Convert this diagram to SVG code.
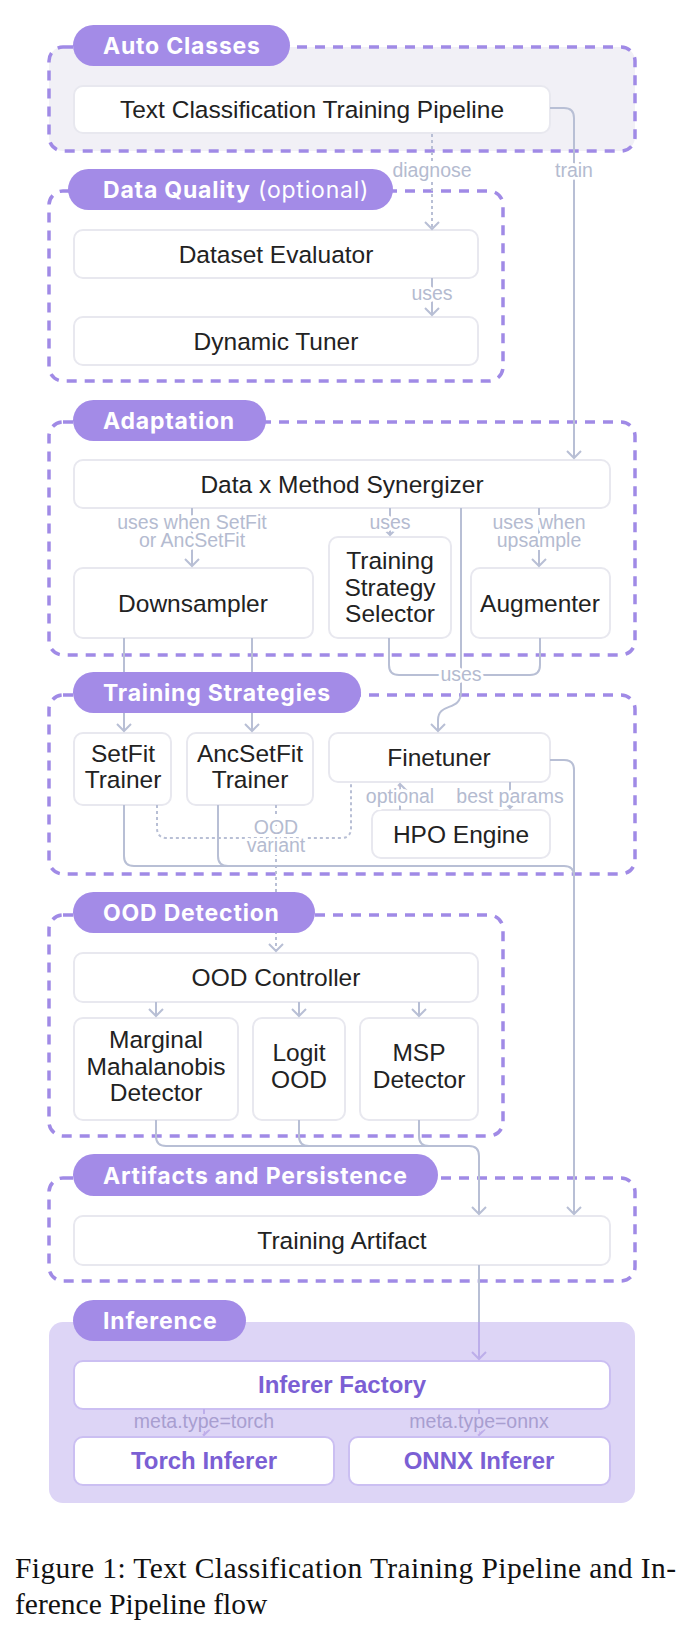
<svg xmlns="http://www.w3.org/2000/svg" width="691" height="1637" viewBox="0 0 691 1637">
<defs>
<style>
.bg{fill:#ffffff}
.cont{fill:#ffffff;stroke:#a08ae6;stroke-width:3.5;stroke-dasharray:10 8}
.cont-gray{fill:#f1f0f6;stroke:#a08ae6;stroke-width:3.5;stroke-dasharray:10 8}
.cont-inf{fill:#ddd5f6;stroke:none}
.pill{fill:#a38be7}
.ptxt{font-family:Inter,"Liberation Sans",sans-serif;font-size:23px;font-weight:700;letter-spacing:0.8px;fill:#ffffff}
.ptxt .lt{font-weight:400}
.node{fill:#ffffff;stroke:#e8e8ef;stroke-width:2}
.node-inf{fill:#ffffff;stroke:#cbbff2;stroke-width:2}
.ntxt{font-family:"Liberation Sans",Arial,sans-serif;font-size:24.5px;fill:#222222;text-anchor:middle}
.itxt{font-family:"Liberation Sans",Arial,sans-serif;font-size:24px;font-weight:700;fill:#7b5fd4;text-anchor:middle}
.conn{fill:none;stroke:#b8bfd5;stroke-width:2}
.dot{stroke-dasharray:3 3}
.conn-inf{fill:none;stroke:#bcaeea;stroke-width:2}
.lbl{font-family:"Liberation Sans",Arial,sans-serif;font-size:19.5px;fill:#b4bbd0;text-anchor:middle;stroke:#ffffff;stroke-width:6;stroke-linejoin:round;paint-order:stroke}
.lbl-inf{font-family:"Liberation Sans",Arial,sans-serif;font-size:19.5px;fill:#a89ed0;text-anchor:middle;stroke:#ddd5f6;stroke-width:6;stroke-linejoin:round;paint-order:stroke}
.cap{font-family:"Liberation Serif","Times New Roman",serif;font-size:29.5px;fill:#111111}
</style>
<marker id="ah" viewBox="-10 -10 20 20" markerWidth="20" markerHeight="20" markerUnits="userSpaceOnUse" orient="auto">
<path d="M-7,-7 L0,0 L-7,7" fill="none" stroke="#b8bfd5" stroke-width="2"/>
</marker>
<marker id="ahi" viewBox="-10 -10 20 20" markerWidth="20" markerHeight="20" markerUnits="userSpaceOnUse" orient="auto">
<path d="M-7,-7 L0,0 L-7,7" fill="none" stroke="#bcaeea" stroke-width="2"/>
</marker>
</defs>
<rect class="bg" x="0" y="0" width="691" height="1637"/>

<g id="clusters">
<rect id="c-auto" class="cont-gray" x="49" y="47" width="586" height="104" rx="14"/>
<rect id="c-dq" class="cont" x="49" y="191" width="454" height="190" rx="14"/>
<rect id="c-adapt" class="cont" x="49" y="422" width="586" height="233" rx="14"/>
<rect id="c-ts" class="cont" x="49" y="695" width="586" height="179" rx="14"/>
<rect id="c-ood" class="cont" x="49" y="915" width="454" height="221" rx="14"/>
<rect id="c-art" class="cont" x="49" y="1178" width="586" height="103" rx="14"/>
<rect id="c-inf" class="cont-inf" x="49" y="1322" width="586" height="181" rx="14"/>
</g>

<g id="n-tctp"><rect class="node" x="74" y="86" width="476" height="47" rx="9"/><text class="ntxt" x="312" y="118">Text Classification Training Pipeline</text></g>
<g id="n-de"><rect class="node" x="74" y="230" width="404" height="48" rx="9"/><text class="ntxt" x="276" y="262.5">Dataset Evaluator</text></g>
<g id="n-dt"><rect class="node" x="74" y="317" width="404" height="48" rx="9"/><text class="ntxt" x="276" y="349.5">Dynamic Tuner</text></g>
<g id="n-syn"><rect class="node" x="74" y="460" width="536" height="48" rx="9"/><text class="ntxt" x="342" y="492.5">Data x Method Synergizer</text></g>
<g id="n-down"><rect class="node" x="74" y="568" width="239" height="70" rx="9"/><text class="ntxt" x="193" y="611.5">Downsampler</text></g>
<g id="n-tss"><rect class="node" x="329" y="537" width="122" height="101" rx="9"/><text class="ntxt" x="390" y="569">Training</text><text class="ntxt" x="390" y="595.5">Strategy</text><text class="ntxt" x="390" y="622">Selector</text></g>
<g id="n-aug"><rect class="node" x="471" y="568" width="139" height="70" rx="9"/><text class="ntxt" x="540" y="611.5">Augmenter</text></g>
<g id="n-setfit"><rect class="node" x="74" y="733" width="97" height="72" rx="9"/><text class="ntxt" x="123" y="762">SetFit</text><text class="ntxt" x="123" y="788">Trainer</text></g>
<g id="n-anc"><rect class="node" x="187" y="733" width="126" height="72" rx="9"/><text class="ntxt" x="250" y="762">AncSetFit</text><text class="ntxt" x="250" y="788">Trainer</text></g>
<g id="n-fine"><rect class="node" x="329" y="733" width="221" height="49" rx="9"/><text class="ntxt" x="439" y="766">Finetuner</text></g>
<g id="n-hpo"><rect class="node" x="372" y="810" width="178" height="48" rx="9"/><text class="ntxt" x="461" y="842.5">HPO Engine</text></g>
<g id="n-oodc"><rect class="node" x="74" y="953" width="404" height="49" rx="9"/><text class="ntxt" x="276" y="986">OOD Controller</text></g>
<g id="n-mmd"><rect class="node" x="74" y="1018" width="164" height="102" rx="9"/><text class="ntxt" x="156" y="1048">Marginal</text><text class="ntxt" x="156" y="1074.5">Mahalanobis</text><text class="ntxt" x="156" y="1101">Detector</text></g>
<g id="n-logit"><rect class="node" x="253" y="1018" width="92" height="102" rx="9"/><text class="ntxt" x="299" y="1061">Logit</text><text class="ntxt" x="299" y="1087.5">OOD</text></g>
<g id="n-msp"><rect class="node" x="360" y="1018" width="118" height="102" rx="9"/><text class="ntxt" x="419" y="1061">MSP</text><text class="ntxt" x="419" y="1087.5">Detector</text></g>
<g id="n-ta"><rect class="node" x="74" y="1216" width="536" height="49" rx="9"/><text class="ntxt" x="342" y="1249">Training Artifact</text></g>
<g id="n-if"><rect class="node-inf" x="74" y="1361" width="536" height="48" rx="9"/><text class="itxt" x="342" y="1393">Inferer Factory</text></g>
<g id="n-torch"><rect class="node-inf" x="74" y="1437" width="260" height="48" rx="9"/><text class="itxt" x="204" y="1469">Torch Inferer</text></g>
<g id="n-onnx"><rect class="node-inf" x="349" y="1437" width="261" height="48" rx="9"/><text class="itxt" x="479" y="1469">ONNX Inferer</text></g>

<g id="connectors">
<path class="conn dot" d="M432,134 V229" marker-end="url(#ah)"/>
<text class="lbl" x="432" y="177">diagnose</text>
<path class="conn" d="M550,108 H564 Q574,108 574,118 V458" marker-end="url(#ah)"/>
<text class="lbl" x="574" y="177">train</text>
<path class="conn" d="M432,278 V315" marker-end="url(#ah)"/>
<text class="lbl" x="432" y="300">uses</text>
<path class="conn" d="M192,508 V566" marker-end="url(#ah)"/>
<text class="lbl" x="192" y="529">uses when SetFit</text>
<text class="lbl" x="192" y="547">or AncSetFit</text>
<path class="conn" d="M390,508 V535" marker-end="url(#ah)"/>
<text class="lbl" x="390" y="529">uses</text>
<path class="conn" d="M539,508 V566" marker-end="url(#ah)"/>
<text class="lbl" x="539" y="529">uses when</text>
<text class="lbl" x="539" y="547">upsample</text>
<path class="conn" d="M389,638 V665 Q389,675 399,675 H461"/>
<path class="conn" d="M540,638 V665 Q540,675 530,675 H461"/>
<path class="conn" d="M461,508 V692 C461,712 438,702 438,720 V731" marker-end="url(#ah)"/>
<text class="lbl" x="461" y="681">uses</text>
<path class="conn" d="M124,638 V731" marker-end="url(#ah)"/>
<path class="conn" d="M252,638 V731" marker-end="url(#ah)"/>
<path class="conn" d="M400,810 V784" marker-end="url(#ah)"/>
<text class="lbl" x="400" y="803">optional</text>
<path class="conn" d="M510,782 V808" marker-end="url(#ah)"/>
<text class="lbl" x="510" y="803">best params</text>
<path class="conn dot" d="M157,805 V828 Q157,838 167,838 H341 Q351,838 351,828 V782"/>
<path class="conn dot" d="M276,805 V951" marker-end="url(#ah)"/>
<text class="lbl" x="276" y="834">OOD</text>
<text class="lbl" x="276" y="852">variant</text>
<path class="conn" d="M550,760 H564 Q574,760 574,770 V1214" marker-end="url(#ah)"/>
<path class="conn" d="M124,805 V856 Q124,866 134,866 H564 Q574,866 574,876"/>
<path class="conn" d="M218,805 V856 Q218,866 228,866"/>
<path class="conn" d="M156,1002 V1016" marker-end="url(#ah)"/>
<path class="conn" d="M299,1002 V1016" marker-end="url(#ah)"/>
<path class="conn" d="M419,1002 V1016" marker-end="url(#ah)"/>
<path class="conn" d="M156,1120 V1136 Q156,1146 166,1146 H469 Q479,1146 479,1156 V1214" marker-end="url(#ah)"/>
<path class="conn" d="M299,1120 V1136 Q299,1146 309,1146"/>
<path class="conn" d="M419,1120 V1136 Q419,1146 429,1146"/>
<path class="conn" d="M479,1265 V1322"/>
<path class="conn-inf" d="M479,1322 V1359" marker-end="url(#ahi)"/>
<path class="conn-inf" d="M204,1409 V1435" marker-end="url(#ahi)"/>
<text class="lbl-inf" x="204" y="1428">meta.type=torch</text>
<path class="conn-inf" d="M479,1409 V1435" marker-end="url(#ahi)"/>
<text class="lbl-inf" x="479" y="1428">meta.type=onnx</text>
</g>

<g id="cluster-labels">
<g id="p-auto"><rect class="pill" x="73" y="25" width="217" height="41" rx="20.5"/><text class="ptxt" x="103" y="54">Auto Classes</text></g>
<g id="p-dq"><rect class="pill" x="68" y="169" width="325" height="41" rx="20.5"/><text class="ptxt" x="103" y="198">Data Quality<tspan class="lt"> (optional)</tspan></text></g>
<g id="p-adapt"><rect class="pill" x="73" y="400" width="193" height="41" rx="20.5"/><text class="ptxt" x="103" y="429">Adaptation</text></g>
<g id="p-ts"><rect class="pill" x="73" y="672" width="288" height="41" rx="20.5"/><text class="ptxt" x="103" y="701">Training Strategies</text></g>
<g id="p-ood"><rect class="pill" x="73" y="892" width="242" height="41" rx="20.5"/><text class="ptxt" x="103" y="921">OOD Detection</text></g>
<g id="p-art"><rect class="pill" x="73" y="1154" width="365" height="42" rx="21"/><text class="ptxt" x="103" y="1183.5">Artifacts and Persistence</text></g>
<g id="p-inf"><rect class="pill" x="73" y="1300" width="173" height="41" rx="20.5"/><text class="ptxt" x="103" y="1329">Inference</text></g>
</g>

<g id="caption">
<text class="cap" x="15" y="1578" textLength="661" lengthAdjust="spacing">Figure 1: Text Classification Training Pipeline and In-</text>
<text class="cap" x="15" y="1614">ference Pipeline flow</text>
</g>
</svg>
